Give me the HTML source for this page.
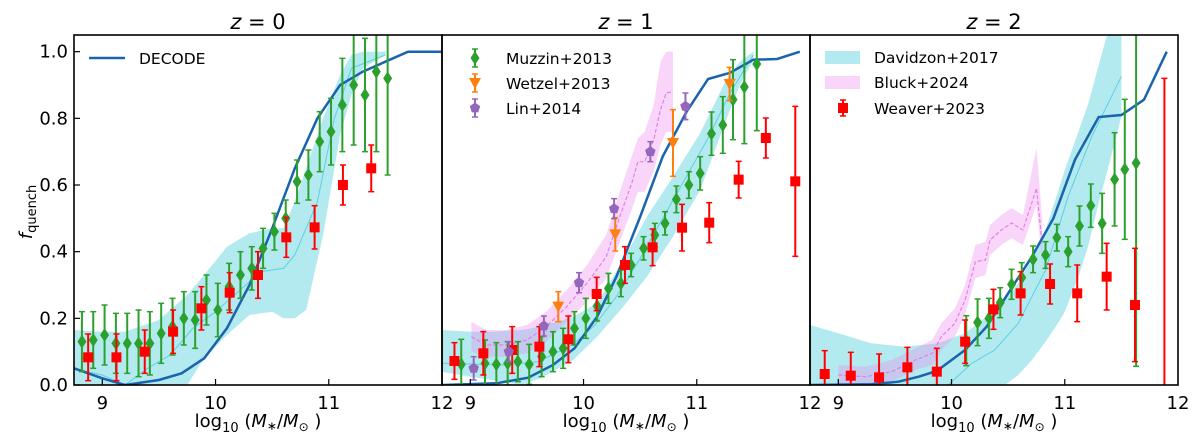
<!DOCTYPE html>
<html><head><meta charset="utf-8"><style>
html,body{margin:0;padding:0;background:#fff;overflow:hidden;width:1200px;height:447px;}
svg{display:block;font-family:"DejaVu Sans","Liberation Sans",sans-serif;}
</style></head><body>
<svg id="chart" width="1200" height="447" viewBox="0 0 1200 447"></svg>
<script>
// ---- data ----
const xTicks=[9,10,11,12];
const yTicks=[0,0.2,0.4,0.6,0.8,1.0];
const yTickLabels=["0.0","0.2","0.4","0.6","0.8","1.0"];
const panelTitles=["0","1","2"];

// z=0
const decodeX0=[8.75,9.0,9.2,9.5,9.7,9.9,10.1,10.3,10.5,10.7,10.9,11.1,11.3,11.5,11.7,12.0];
const decodeY0=[0.05,0.02,0.0,0.015,0.035,0.08,0.17,0.3,0.47,0.65,0.8,0.9,0.94,0.97,1.0,1.0];
const muzzinX0=[8.82,8.92,9.02,9.12,9.22,9.32,9.42,9.52,9.62,9.72,9.82,9.92,10.02,10.12,10.22,10.32,10.42,10.52,10.62,10.72,10.82,10.92,11.02,11.12,11.22,11.32,11.42,11.52];
const muzzinY0=[0.13,0.135,0.15,0.125,0.125,0.125,0.125,0.155,0.175,0.2,0.195,0.255,0.225,0.295,0.33,0.35,0.41,0.46,0.5,0.61,0.63,0.73,0.76,0.84,0.9,0.87,0.94,0.92];
const muzzinE0=[0.09,0.085,0.09,0.09,0.09,0.1,0.095,0.09,0.085,0.08,0.085,0.075,0.08,0.07,0.07,0.065,0.06,0.055,0.055,0.065,0.075,0.09,0.1,0.14,0.18,0.17,0.24,0.29];
const weaverX0=[8.875,9.125,9.375,9.625,9.875,10.125,10.375,10.625,10.875,11.125,11.375];
const weaverY0=[0.083,0.083,0.10,0.16,0.23,0.277,0.33,0.443,0.473,0.6,0.65];
const weaverE0=[0.07,0.07,0.065,0.065,0.065,0.06,0.07,0.06,0.065,0.06,0.07];
const davX0=[8.75,9.0,9.2,9.5,9.75,9.9,10.1,10.3,10.5,10.6,10.7,10.8,10.95,11.1,11.2,11.3,11.5];
const davLo0=[0.0,0.0,0.0,0.0,0.0,0.08,0.15,0.21,0.22,0.2,0.2,0.225,0.45,0.75,0.87,0.95,0.99];
const davHi0=[0.165,0.16,0.16,0.195,0.27,0.33,0.415,0.455,0.47,0.47,0.55,0.65,0.8,0.93,0.99,1.0,1.0];
const davMidX0=[8.75,9.0,9.2,9.4,9.6,9.8,10.0,10.2,10.4,10.6,10.7,10.9,11.05,11.2,11.5];
const davMid0=[0.05,0.03,0.0,0.05,0.09,0.17,0.22,0.28,0.34,0.35,0.39,0.55,0.8,0.95,0.99];

// z=1
const decodeX1=[8.76,9.23,9.51,9.73,9.92,10.12,10.29,10.5,10.7,10.91,11.1,11.29,11.5,11.71,11.91];
const decodeY1=[0.0,0.005,0.022,0.06,0.11,0.205,0.325,0.505,0.686,0.82,0.918,0.936,0.976,0.978,1.0];
const muzzinX1=[8.92,9.13,9.23,9.33,9.42,9.52,9.63,9.73,9.82,9.92,10.02,10.12,10.22,10.33,10.42,10.53,10.63,10.72,10.82,10.93,11.03,11.13,11.23,11.32,11.42,11.53];
const muzzinY1=[0.062,0.065,0.062,0.065,0.07,0.062,0.085,0.10,0.11,0.17,0.20,0.237,0.29,0.305,0.36,0.41,0.45,0.485,0.557,0.60,0.635,0.754,0.78,0.856,0.894,0.963];
const muzzinE1=[0.075,0.07,0.065,0.065,0.06,0.06,0.06,0.06,0.06,0.05,0.06,0.045,0.045,0.04,0.035,0.035,0.035,0.035,0.04,0.04,0.05,0.065,0.085,0.12,0.17,0.2];
const weaverX1=[8.86,9.115,9.37,9.61,9.866,10.116,10.366,10.61,10.87,11.11,11.37,11.61,11.87];
const weaverY1=[0.072,0.095,0.105,0.115,0.137,0.273,0.36,0.413,0.472,0.487,0.616,0.741,0.611];
const weaverE1=[0.055,0.065,0.07,0.06,0.07,0.05,0.055,0.055,0.07,0.06,0.055,0.06,0.225];
const wetzelX1=[9.777,10.28,10.79,11.29];
const wetzelY1=[0.235,0.452,0.726,0.903];
const wetzelE1=[0.045,0.05,0.1,0.05];
const linX1=[9.03,9.34,9.65,9.96,10.27,10.59,10.90];
const linY1=[0.05,0.10,0.177,0.307,0.529,0.70,0.836];
const linE1=[0.035,0.03,0.03,0.03,0.03,0.03,0.04];
const davX1=[8.75,9.0,9.2,9.45,9.62,9.91,10.12,10.35,10.56,10.79,11.03,11.26,11.38,11.5];
const davLo1=[0.04,0.025,0.015,0.0,0.02,0.075,0.145,0.235,0.325,0.445,0.585,0.796,0.9,0.976];
const davHi1=[0.165,0.16,0.16,0.165,0.175,0.205,0.245,0.375,0.505,0.625,0.756,0.916,0.97,1.0];
const davMidX1=[8.75,9.3,9.6,9.9,10.1,10.3,10.5,10.7,10.9,11.1,11.3,11.5];
const davMid1=[0.065,0.06,0.07,0.12,0.18,0.27,0.38,0.5,0.62,0.74,0.88,0.99];
const bluckX1=[9.01,9.14,9.32,9.5,9.67,9.85,10.03,10.2,10.32,10.43,10.48,10.54,10.62,10.68,10.73,10.79];
const bluckY1=[0.145,0.12,0.12,0.135,0.175,0.235,0.305,0.385,0.505,0.61,0.67,0.67,0.735,0.826,0.876,0.88];
const bluckLo1=[0.10,0.085,0.085,0.095,0.13,0.19,0.25,0.32,0.43,0.53,0.58,0.58,0.64,0.72,0.76,0.76];
const bluckHi1=[0.19,0.165,0.165,0.18,0.22,0.285,0.36,0.45,0.58,0.69,0.74,0.76,0.84,0.97,1.0,1.0];

// z=2
const decodeX2=[8.75,9.29,9.53,9.71,9.87,10.12,10.31,10.5,10.71,10.9,11.09,11.3,11.5,11.7,11.9];
const decodeY2=[0.0,0.002,0.01,0.025,0.042,0.105,0.175,0.275,0.385,0.5,0.676,0.804,0.81,0.856,1.0];
const muzzinX2=[10.13,10.23,10.33,10.43,10.53,10.62,10.72,10.83,10.93,11.03,11.13,11.23,11.33,11.44,11.53,11.63];
const muzzinY2=[0.133,0.188,0.2,0.247,0.302,0.322,0.377,0.39,0.442,0.40,0.477,0.538,0.485,0.617,0.647,0.666];
const muzzinE2=[0.075,0.07,0.06,0.045,0.045,0.045,0.04,0.04,0.04,0.045,0.06,0.065,0.09,0.14,0.21,0.61];
const weaverX2=[8.88,9.11,9.36,9.61,9.87,10.12,10.37,10.61,10.87,11.11,11.37,11.62,11.88];
const weaverY2=[0.033,0.028,0.023,0.053,0.04,0.13,0.227,0.275,0.303,0.275,0.325,0.24,-0.05];
const weaverE2=[0.07,0.07,0.07,0.06,0.07,0.065,0.06,0.065,0.06,0.085,0.1,0.17,0.97];
const davX2=[8.75,9.0,9.29,9.59,9.88,10.12,10.35,10.47,10.59,10.71,10.83,10.94,11.0,11.12,11.21,11.3,11.39,11.5];
const davLo2=[0.0,0.0,0.0,0.0,0.0,0.0,0.0,0.0,0.03,0.075,0.13,0.185,0.22,0.325,0.42,0.546,0.66,0.806];
const davHi2=[0.18,0.155,0.125,0.115,0.125,0.155,0.215,0.255,0.305,0.38,0.465,0.58,0.645,0.76,0.846,0.96,1.07,1.07];
const davMidX2=[9.97,10.18,10.38,10.59,10.83,11.03,11.24,11.5];
const davMid2=[0.0,0.065,0.105,0.185,0.345,0.566,0.746,0.926];
const bluckX2=[9.0,9.24,9.47,9.68,9.83,9.91,10.03,10.12,10.21,10.3,10.34,10.44,10.53,10.63,10.75,10.8];
const bluckY2=[0.03,0.025,0.04,0.075,0.095,0.145,0.185,0.255,0.37,0.375,0.435,0.465,0.486,0.465,0.59,0.425];
const bluckLo2=[0.0,0.0,0.01,0.045,0.06,0.105,0.145,0.21,0.32,0.33,0.39,0.42,0.44,0.42,0.54,0.37];
const bluckHi2=[0.06,0.055,0.075,0.11,0.135,0.185,0.23,0.30,0.42,0.43,0.48,0.51,0.53,0.51,0.71,0.5];

// ---- rendering ----
const NS="http://www.w3.org/2000/svg";
const svg=document.getElementById('chart');
const PL=[74,442,810], PW=368, PT=35, PB=385;
const XMIN=8.75, XMAX=12, YMIN=0, YMAX=1.05;
function sx(p,v){return PL[p]+(v-XMIN)/(XMAX-XMIN)*PW;}
function sy(v){return PB-(v-YMIN)/(YMAX-YMIN)*(PB-PT);}
function mk(tag,attrs,parent){const e=document.createElementNS(NS,tag);for(const k in attrs)e.setAttribute(k,attrs[k]);(parent||svg).appendChild(e);return e;}

const defs=mk('defs',{});
for(let p=0;p<3;p++){
  const cp=mk('clipPath',{id:'clip'+p},defs);
  mk('rect',{x:PL[p],y:PT,width:PW,height:PB-PT},cp);
}

function band(p,xs,lo,hi,fill,name){
  let d='';
  xs.forEach((x,i)=>{d+=(i?'L':'M')+sx(p,x).toFixed(1)+','+sy(hi[i]).toFixed(1);});
  for(let i=xs.length-1;i>=0;i--)d+='L'+sx(p,xs[i]).toFixed(1)+','+sy(lo[i]).toFixed(1);
  const e=mk('path',{d:d+'Z',fill:fill,'clip-path':'url(#clip'+p+')'});
  
  
  return e;
}
function line(p,xs,ys,stroke,w,dash,name){
  const pts=xs.map((x,i)=>sx(p,x).toFixed(1)+','+sy(ys[i]).toFixed(1)).join(' ');
  const e=mk('polyline',{points:pts,fill:'none',stroke:stroke,'stroke-width':w,'clip-path':'url(#clip'+p+')'});
  if(dash)e.setAttribute('stroke-dasharray',dash);
  
  
  return e;
}
function marker(g,type,cx,cy,color){
  let e;
  if(type==='sq') e=mk('rect',{x:cx-5,y:cy-5,width:10,height:10,fill:color},g);
  else if(type==='dia') e=mk('polygon',{points:`${cx},${cy-7} ${cx+4.5},${cy} ${cx},${cy+7} ${cx-4.5},${cy}`,fill:color},g);
  else if(type==='tri') e=mk('polygon',{points:`${cx-6},${cy-5} ${cx+6},${cy-5} ${cx},${cy+6}`,fill:color},g);
  else { let pts=[];for(let k=0;k<5;k++){const a=-Math.PI/2+k*2*Math.PI/5;pts.push((cx+5.5*Math.cos(a)).toFixed(1)+','+(cy+5.5*Math.sin(a)).toFixed(1));} e=mk('polygon',{points:pts.join(' '),fill:color},g);}
  return e;
}
function errbar(g,cx,y1,y2,color){
  mk('line',{x1:cx,x2:cx,y1:y1,y2:y2,stroke:color,'stroke-width':2},g);
  mk('line',{x1:cx-3,x2:cx+3,y1:y1,y2:y1,stroke:color,'stroke-width':1.5},g);
  mk('line',{x1:cx-3,x2:cx+3,y1:y2,y2:y2,stroke:color,'stroke-width':1.5},g);
}
function points(p,xs,ys,es,type,color,name){
  const g=mk('g',{'clip-path':'url(#clip'+p+')'});
  
  
  xs.forEach((x,i)=>{
    const cx=sx(p,x), cy=sy(ys[i]);
    errbar(g,cx,sy(ys[i]+es[i]),sy(ys[i]-es[i]),color);
    const m=marker(g,type,cx,cy,color);
    
    
  });
}
function text(x,y,str,opts,name){
  const e=mk('text',Object.assign({x:x,y:y,'font-size':16,fill:'#000'},opts||{}));
  e.textContent=str;
  
  
  return e;
}

const CYAN='rgba(23,190,207,0.33)', CYANL='#5fcfe0', PINK='rgba(238,130,238,0.33)', PINKL='#e67fe6';
const BLUE='#1a63ad', GREEN='#2ca02c', RED='#ff0000', ORANGE='#ff7f0e', PURPLE='#9467bd';

// panel 0
band(0,davX0,davLo0,davHi0,CYAN,'davidzon-band-z0');
line(0,davMidX0,davMid0,CYANL,1,null,'davidzon-median-z0');
line(0,decodeX0,decodeY0,BLUE,2.5,null,'decode-line-z0');
points(0,muzzinX0,muzzinY0,muzzinE0,'dia',GREEN,'muzzin-z0');
points(0,weaverX0,weaverY0,weaverE0,'sq',RED,'weaver-z0');
// panel 1
band(1,davX1,davLo1,davHi1,CYAN,'davidzon-band-z1');
line(1,davMidX1,davMid1,CYANL,1,null,'davidzon-median-z1');
band(1,bluckX1,bluckLo1,bluckHi1,PINK,'bluck-band-z1');
line(1,bluckX1,bluckY1,PINKL,1.2,'4,2','bluck-median-z1');
line(1,decodeX1,decodeY1,BLUE,2.5,null,'decode-line-z1');
points(1,muzzinX1,muzzinY1,muzzinE1,'dia',GREEN,'muzzin-z1');
points(1,weaverX1,weaverY1,weaverE1,'sq',RED,'weaver-z1');
points(1,wetzelX1,wetzelY1,wetzelE1,'tri',ORANGE,'wetzel-z1');
points(1,linX1,linY1,linE1,'pent',PURPLE,'lin-z1');
// panel 2
band(2,davX2,davLo2,davHi2,CYAN,'davidzon-band-z2');
line(2,davMidX2,davMid2,CYANL,1,null,'davidzon-median-z2');
band(2,bluckX2,bluckLo2,bluckHi2,PINK,'bluck-band-z2');
line(2,bluckX2,bluckY2,PINKL,1.2,'4,2','bluck-median-z2');
line(2,decodeX2,decodeY2,BLUE,2.5,null,'decode-line-z2');
points(2,muzzinX2,muzzinY2,muzzinE2,'dia',GREEN,'muzzin-z2');
points(2,weaverX2,weaverY2,weaverE2,'sq',RED,'weaver-z2');

// axes
for(let p=0;p<3;p++){
  const fr=mk('rect',{x:PL[p],y:PT,width:PW,height:PB-PT,fill:'none',stroke:'#000','stroke-width':1.6});
  
  
  xTicks.forEach(t=>{
    const x=sx(p,t);
    if(t<12) mk('line',{x1:x,x2:x,y1:PB,y2:PB-6,stroke:'#000','stroke-width':1.2});
    text(x,PB+24,String(t),{'text-anchor':'middle','font-size':18},'x-tick-label');
  });
  if(p===0) yTicks.forEach(t=>{
    mk('line',{x1:PL[p],x2:PL[p]+6,y1:sy(t),y2:sy(t),stroke:'#000','stroke-width':1.2});
  });
  const tt=text(PL[p]+PW/2,29,'',{'text-anchor':'middle','font-size':21},'panel-title-z'+panelTitles[p]);
  const ts1=mk('tspan',{'font-style':'italic'},tt);ts1.textContent='z';
  const ts2=mk('tspan',{},tt);ts2.textContent=' = '+panelTitles[p];
  const xl=text(PL[p]+PW/2,427,'',{'text-anchor':'middle','font-size':18},'x-axis-title');
  const a=mk('tspan',{},xl);a.textContent='log';
  const b=mk('tspan',{'font-size':13,dy:5},xl);b.textContent='10';
  const c=mk('tspan',{dy:-5},xl);c.textContent=' (';
  const d=mk('tspan',{'font-style':'italic'},xl);d.textContent='M';
  const e2=mk('tspan',{'font-size':12,dy:3},xl);e2.textContent='∗';
  const f=mk('tspan',{dy:-3},xl);f.textContent='/';
  const g2=mk('tspan',{'font-style':'italic'},xl);g2.textContent='M';
  const h=mk('tspan',{'font-size':12,dy:4},xl);h.textContent='⊙';
  const i2=mk('tspan',{dy:-4},xl);i2.textContent=' )';
}
yTicks.forEach((t,i)=>{text(68,sy(t)+6,yTickLabels[i],{'text-anchor':'end','font-size':18},'y-tick-label');});
const yl=text(0,0,'',{'font-size':18,'text-anchor':'middle',transform:'translate(32,212) rotate(-90)'},'y-axis-title');
const yl1=mk('tspan',{'font-style':'italic'},yl);yl1.textContent='f';
const yl2=mk('tspan',{'font-size':13,dy:4},yl);yl2.textContent='quench';

// legends
const lg0=mk('g',{});


mk('line',{x1:89,x2:125,y1:58,y2:58,stroke:BLUE,'stroke-width':2.5},lg0);
text(139,64,'DECODE',{'font-size':15.5},'legend-label-decode');

const lg1=mk('g',{});


const legItems=[['dia',GREEN,'Muzzin+2013',58],['tri',ORANGE,'Wetzel+2013',83],['pent',PURPLE,'Lin+2014',108]];
legItems.forEach(it=>{
  errbar(lg1,475,it[3]-9,it[3]+9,it[1]);
  marker(lg1,it[0],475,it[3],it[1]);
  text(506,it[3]+6,it[2],{'font-size':15.5},'legend-label');
});
const lg2=mk('g',{});


mk('rect',{x:825,y:51,width:35,height:13,fill:CYAN},lg2);
text(874,63,'Davidzon+2017',{'font-size':15.5},'legend-label-davidzon');
mk('rect',{x:825,y:76,width:35,height:13,fill:PINK},lg2);
text(874,88,'Bluck+2024',{'font-size':15.5},'legend-label-bluck');
errbar(lg2,843,100,116,RED);
marker(lg2,'sq',843,108,RED);
text(874,114,'Weaver+2023',{'font-size':15.5},'legend-label-weaver');
</script>
</body></html>
